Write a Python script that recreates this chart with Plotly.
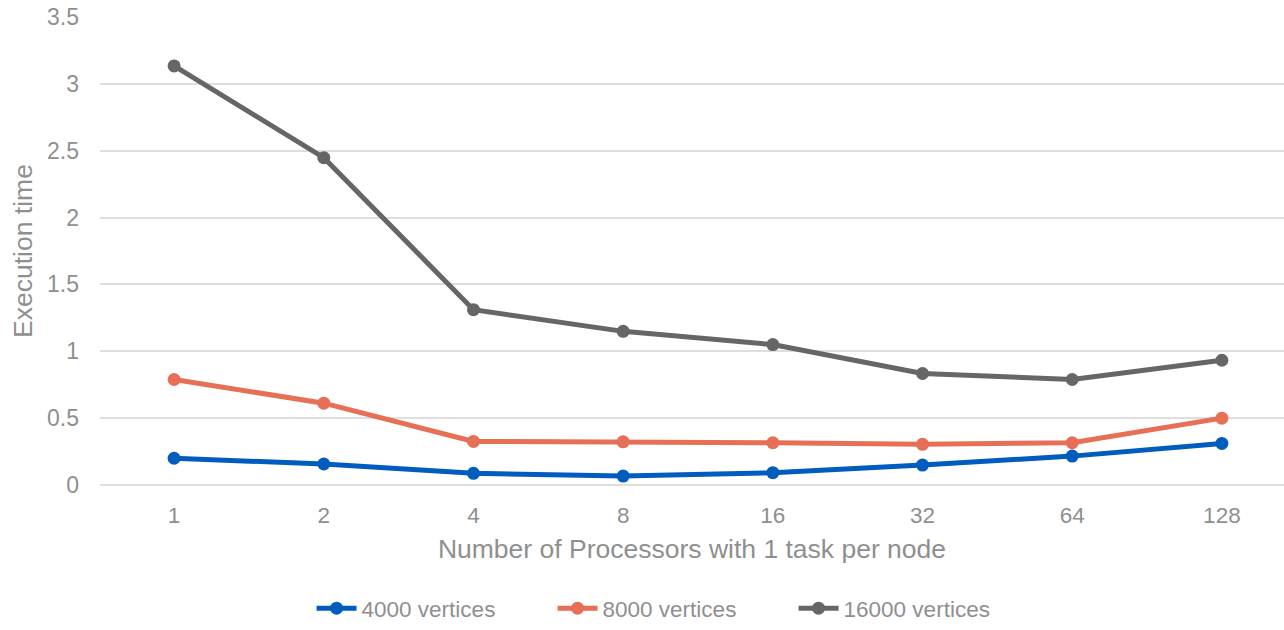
import plotly.graph_objects as go

# Processor counts (category axis) and measured execution times
processors = ["1", "2", "4", "8", "16", "32", "64", "128"]
time_4000 = [0.20, 0.157, 0.087, 0.067, 0.092, 0.149, 0.216, 0.311]
time_8000 = [0.789, 0.612, 0.326, 0.323, 0.316, 0.304, 0.316, 0.50]
time_16000 = [3.134, 2.448, 1.311, 1.149, 1.05, 0.834, 0.789, 0.933]
series_names = ["4000 vertices", "8000 vertices", "16000 vertices"]
y_ticks = [0, 0.5, 1, 1.5, 2, 2.5, 3, 3.5]

colors = ["#005DBE", "#E66F55", "#666666"]
font_family = "Liberation Sans, Arial, sans-serif"
text_gray = "#8F8F8F"

positions = list(range(len(processors)))

fig = go.Figure()
for name, values, color in zip(series_names, [time_4000, time_8000, time_16000], colors):
    fig.add_trace(go.Scatter(
        x=positions,
        y=values,
        name=name,
        mode="lines+markers",
        line=dict(color=color, width=5),
        marker=dict(color=color, size=13),
    ))

fig.update_layout(
    width=1284,
    height=630,
    margin=dict(l=100, r=0, t=17, b=145),
    paper_bgcolor="white",
    plot_bgcolor="white",
    font=dict(family=font_family, color=text_gray, size=22),
    showlegend=True,
    legend=dict(
        orientation="h",
        x=0.484,
        xanchor="center",
        yref="container",
        y=-0.0095,
        yanchor="bottom",
        font=dict(size=22.5, color=text_gray),
        itemwidth=40,
        entrywidth=186,
        tracegroupgap=0,
        borderwidth=0,
    ),
    xaxis=dict(
        tickmode="array",
        tickvals=positions,
        ticktext=processors,
        range=[-0.495, 7.415],
        automargin=False,
        showgrid=False,
        zeroline=False,
        showline=False,
        ticks="",
        ticklabelstandoff=14,
        tickfont=dict(size=22.5, color=text_gray),
        title=dict(
            text="Number of Processors with 1 task per node",
            font=dict(size=26.5, color=text_gray),
            standoff=12,
        ),
    ),
    yaxis=dict(
        range=[0, 3.5],
        tickmode="array",
        tickvals=y_ticks,
        ticktext=[f"{v:g}" for v in y_ticks],
        automargin=False,
        showgrid=True,
        gridcolor="#DEDEDE",
        gridwidth=1.5,
        zeroline=True,
        zerolinecolor="#DEDEDE",
        zerolinewidth=1.5,
        showline=False,
        ticks="",
        ticklabelstandoff=20,
        tickfont=dict(size=23, color=text_gray),
        title=dict(
            text="Execution time",
            font=dict(size=26.5, color=text_gray),
            standoff=6,
        ),
    ),
)

fig.write_html("out.html")
